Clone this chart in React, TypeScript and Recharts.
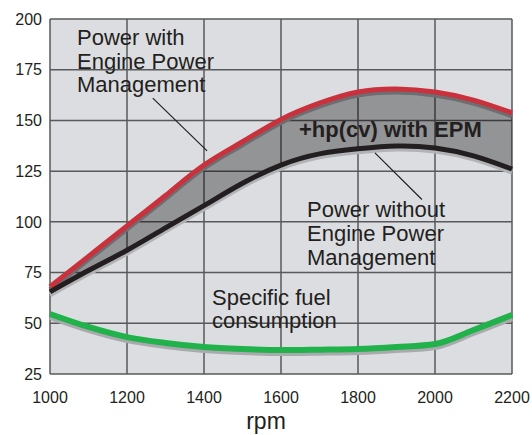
import React from 'react';
import {
  ComposedChart, Line, Area, XAxis, YAxis, CartesianGrid, ReferenceLine,
} from 'recharts';

const rpm = [1000, 1100, 1200, 1300, 1400, 1500, 1600, 1700, 1800, 1900, 2000, 2100, 2200];
const powerWithEPM = [68, 83, 98, 113, 128, 139.5, 150.5, 158.5, 164, 165.5, 164, 160, 153.7];
const powerWithoutEPM = [65.5, 76, 86, 97, 108, 119, 128, 133.5, 136, 137.4, 136.4, 132.5, 126];
const fuelConsumption = [54.6, 48.2, 43.2, 40.3, 38.3, 37.3, 36.8, 37, 37.3, 38.3, 39.8, 46.7, 54.1];

const xTicks = [1000, 1200, 1400, 1600, 1800, 2000, 2200];
const yTicks = [25, 50, 75, 100, 125, 150, 175, 200];

const data = rpm.map((r, i) => ({
  rpm: r,
  withEPM: powerWithEPM[i],
  withoutEPM: powerWithoutEPM[i],
  band: [powerWithoutEPM[i], powerWithEPM[i]],
  fuel: fuelConsumption[i],
}));

const FONT = '"Liberation Sans", Arial, sans-serif';
const INK = '#231f20';

const Annotations = () => (
  <svg
    width={532}
    height={435}
    style={{ position: 'absolute', left: 0, top: 0, pointerEvents: 'none' }}
  >
    <g fontFamily={FONT} fill={INK}>
      <text x={77} y={45} fontSize={22}>Power with</text>
      <text x={77} y={68.5} fontSize={22}>Engine Power</text>
      <text x={77} y={92} fontSize={22}>Management</text>
      <text x={299} y={137} fontSize={22} fontWeight="bold">+hp(cv) with EPM</text>
      <text x={307} y={217} fontSize={22}>Power without</text>
      <text x={307} y={241} fontSize={22}>Engine Power</text>
      <text x={307} y={265} fontSize={22}>Management</text>
      <text x={212} y={305} fontSize={22}>Specific fuel</text>
      <text x={212} y={328} fontSize={22}>consumption</text>
      <text x={266} y={429} fontSize={23} textAnchor="middle">rpm</text>
    </g>
  </svg>
);

export default function App() {
  return (
    <div style={{ position: 'absolute', left: 0, top: 0, width: 532, height: 435, background: '#fff' }}>
      <ComposedChart
        width={532}
        height={435}
        data={data}
        margin={{ top: 19, right: 20, bottom: 0, left: 0 }}
      >
        <CartesianGrid
          stroke="#58595b"
          strokeWidth={1.5}
          fill="#dcdde0"
          fillOpacity={1}
          horizontalValues={yTicks}
          verticalValues={xTicks}
        />
        <XAxis
          dataKey="rpm"
          type="number"
          domain={[1000, 2200]}
          ticks={xTicks}
          axisLine={false}
          tickLine={false}
          tickSize={0}
          tickMargin={18}
          height={61}
          interval={0}
          tick={{ fill: INK, fontSize: 16, fontFamily: FONT }}
        />
        <YAxis
          type="number"
          domain={[25, 200]}
          ticks={yTicks}
          axisLine={false}
          tickLine={false}
          tickSize={0}
          tickMargin={8}
          width={50}
          interval={0}
          tick={{ fill: INK, fontSize: 16, fontFamily: FONT }}
        />
        <Area
          type="natural"
          dataKey="band"
          stroke="none"
          fill="#000000"
          fillOpacity={0.33}
          isAnimationActive={false}
        />
        <Line type="natural" dataKey="withEPM" stroke="#6d6e71" strokeWidth={5} dot={false}
          transform="translate(0,3)" isAnimationActive={false} legendType="none" />
        <Line type="natural" dataKey="withoutEPM" stroke="#b2b3b6" strokeWidth={5} dot={false}
          transform="translate(0,3)" isAnimationActive={false} legendType="none" />
        <Line type="monotone" dataKey="fuel" stroke="#a9aaad" strokeWidth={6} dot={false}
          transform="translate(0,3)" isAnimationActive={false} legendType="none" />
        <Line type="natural" dataKey="withEPM" stroke="#c9323d" strokeWidth={5} dot={false}
          isAnimationActive={false} />
        <Line type="natural" dataKey="withoutEPM" stroke={INK} strokeWidth={5} dot={false}
          isAnimationActive={false} />
        <Line type="monotone" dataKey="fuel" stroke="#22b24c" strokeWidth={6} dot={false}
          isAnimationActive={false} />
        <ReferenceLine
          segment={[{ x: 1267, y: 161 }, { x: 1408, y: 135 }]}
          stroke={INK}
          strokeWidth={1.2}
          ifOverflow="visible"
        />
        <ReferenceLine
          segment={[{ x: 1844, y: 134 }, { x: 1966, y: 111 }]}
          stroke={INK}
          strokeWidth={1.2}
          ifOverflow="visible"
        />
      </ComposedChart>
      <Annotations />
    </div>
  );
}
